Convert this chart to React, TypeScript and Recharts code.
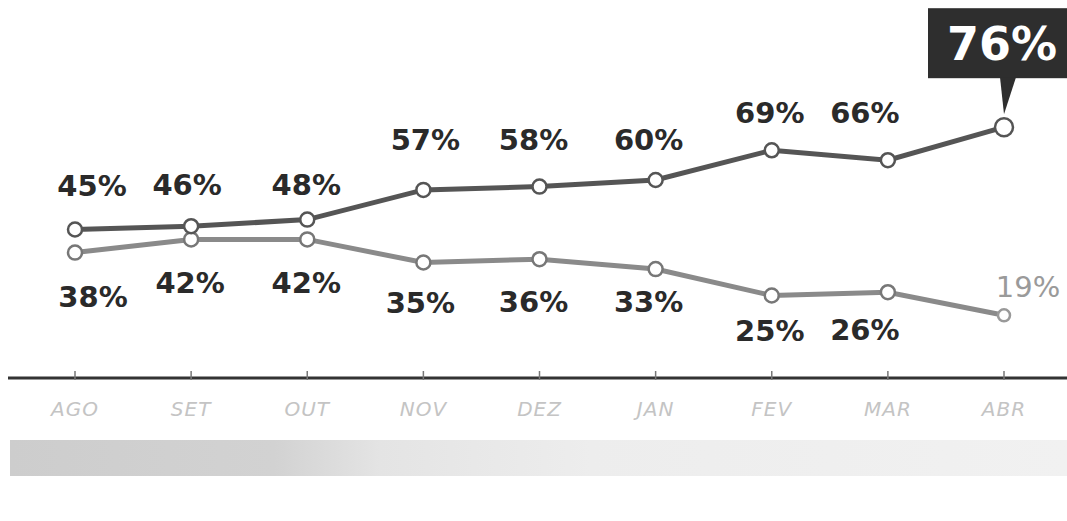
import React from 'react';
import { LineChart, Line, XAxis, YAxis } from 'recharts';

const months = ['AGO', 'SET', 'OUT', 'NOV', 'DEZ', 'JAN', 'FEV', 'MAR', 'ABR'];
const favor = [45, 46, 48, 57, 58, 60, 69, 66, 76];
const contra = [38, 42, 42, 35, 36, 33, 25, 26, 19];

const data = months.map((m, i) => ({ month: m, favor: favor[i], contra: contra[i] }));

// label placement offsets (style only)
const favorDx = [17, -4, -1, 2, -6, -7, -2, -23, 0];
const favorDy = [-44, -41, -35, -50, -47, -40, -37, -47, 0];
const contraDx = [18, -1, -1, -3, -6, -7, -2, -23, 24];
const contraDy = [44, 44, 44, 40, 43, 33, 35, 38, -28];

const FONT = '"DejaVu Sans", sans-serif';

const FavorLabel = (props: any) => {
  const { x, y, value, index } = props;
  if (index === favor.length - 1) {
    return (
      <g>
        <rect x={x - 76} y={y - 119} width={140} height={70} fill="#2e2e2e" />
        <polygon points={`${x - 4},${y - 50} ${x + 12},${y - 50} ${x},${y - 13}`} fill="#2e2e2e" />
        <text x={x - 2} y={y - 83} textAnchor="middle" dominantBaseline="central" fill="#ffffff"
          fontFamily={FONT} fontWeight={700} fontSize={46}>{value}%</text>
      </g>
    );
  }
  return (
    <text x={x + favorDx[index]} y={y + favorDy[index]} textAnchor="middle" dominantBaseline="central"
      fill="#2a2a2a" fontFamily={FONT} fontWeight={700} fontSize={29}>{value}%</text>
  );
};

const ContraLabel = (props: any) => {
  const { x, y, value, index } = props;
  const last = index === contra.length - 1;
  return (
    <text x={x + contraDx[index]} y={y + contraDy[index]} textAnchor="middle" dominantBaseline="central"
      fill={last ? '#9a9a9a' : '#2a2a2a'} fontFamily={FONT} fontWeight={last ? 400 : 700} fontSize={29}>{value}%</text>
  );
};

const Tick = (props: any) => {
  const { x, y, payload } = props;
  return (
    <g>
      <line x1={x} x2={x} y1={y - 9} y2={y} stroke="#777" strokeWidth={1.5} />
      <text x={x} y={y + 36} textAnchor="middle" fill="#c4c4c4" fontFamily={FONT} fontStyle="italic"
        fontWeight={300} fontSize={20} letterSpacing={1}>{payload.value}</text>
    </g>
  );
};

const favorDot = (props: any) => {
  const { cx, cy, index } = props;
  const last = index === favor.length - 1;
  return <circle key={`f${index}`} cx={cx} cy={cy} r={last ? 9 : 7} fill="#fff" stroke="#555" strokeWidth={2.5} />;
};

const contraDot = (props: any) => {
  const { cx, cy, index } = props;
  const last = index === contra.length - 1;
  return <circle key={`c${index}`} cx={cx} cy={cy} r={last ? 6 : 7} fill="#fff" stroke={last ? '#999' : '#777'} strokeWidth={2.5} />;
};

export default function App() {
  return (
    <div style={{ position: 'absolute', left: 0, top: 0, width: 1067, height: 521, background: '#fff', overflow: 'hidden' }}>
      <div style={{
        position: 'absolute', left: 10, top: 440, width: 1057, height: 36,
        background: 'linear-gradient(to right, #cdcdcd 0%, #d2d2d2 25%, #e4e4e4 35%, #ededed 55%, #f1f1f1 100%)'
      }} />
      <LineChart width={1067} height={521} data={data} margin={{ top: 114, right: 0, bottom: 83, left: 8 }}>
        <YAxis hide domain={[0, 80]} />
        <XAxis dataKey="month" height={60} padding={{ left: 67, right: 63 }} tickSize={0}
          axisLine={{ stroke: '#333', strokeWidth: 3 }} tickLine={false} tick={<Tick />} interval={0} />
        <Line type="linear" dataKey="contra" stroke="#8a8a8a" strokeWidth={5} isAnimationActive={false}
          dot={contraDot} activeDot={false} label={<ContraLabel />} />
        <Line type="linear" dataKey="favor" stroke="#555555" strokeWidth={5} isAnimationActive={false}
          dot={favorDot} activeDot={false} label={<FavorLabel />} />
      </LineChart>
    </div>
  );
}
